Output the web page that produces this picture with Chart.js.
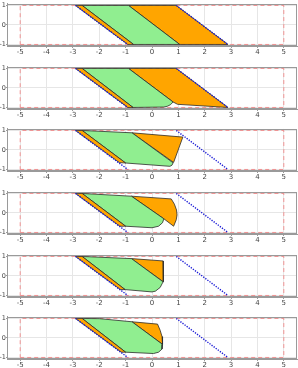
<!DOCTYPE html>
<html>
<head>
<meta charset="utf-8">
<script src="https://cdn.jsdelivr.net/npm/chart.js@4.4.1/dist/chart.umd.min.js"></script>
<style>
  html, body { margin: 0; padding: 0; background: #fff; overflow: hidden; }
  body { width: 298px; height: 368px; position: relative; }
  canvas { position: absolute; left: 0; }
</style>
</head>
<body>
<script>
// axis ticks
const xTicks = [-5, -4, -3, -2, -1, 0, 1, 2, 3, 4, 5]
const yTicks = [-1, 0, 1]

// fixed guides: domain box and the two edges of the starting parallelogram
const domainBox = [[-5, -1], [5, -1], [5, 1], [-5, 1], [-5, -1]]
const leftEdge = [[-2.9, 1], [-0.92, -1]]
const rightEdge = [[0.92, 1], [2.88, -1]]

// snapshot 1
const strip1 = [[-2.9, 1], [-2.65, 1], [-0.7, -1], [-0.92, -1]]
const green1 = [[-2.65, 1], [-0.89, 1], [1.05, -1], [-0.7, -1]]
const orange1 = [[-0.89, 1], [0.92, 1], [2.88, -1], [1.05, -1]]

// snapshot 2
const strip2 = [[-2.9, 1], [-2.65, 1], [-0.72, -1], [-0.92, -1]]
const green2 = [[-2.65, 1], [-0.89, 1], [0.8, -0.72], [0.7, -0.86], [0.58, -0.94], [0.44, -0.98], [-0.72, -1]]
const orange2 = [[-0.89, 1], [0.92, 1], [2.88, -1], [0.97, -0.84], [0.8, -0.72]]

// snapshot 3
const strip3 = [[-2.9, 1], [-2.65, 1], [-1.0, -0.67], [-1.24, -0.65]]
const green3 = [[-2.65, 1], [-0.76, 0.88], [0.8, -0.66], [0.76, -0.78], [0.68, -0.84], [-1.0, -0.67]]
const orange3 = [[-0.76, 0.88], [1.17, 0.66], [0.82, -0.64]]

// snapshot 4
const strip4 = [[-2.9, 1], [-2.65, 1], [-1.0, -0.68], [-1.22, -0.68]]
const green4 = [[-2.65, 1], [-0.78, 0.86], [0.45, -0.3], [0.4, -0.5], [0.25, -0.68], [0.0, -0.76], [-1.0, -0.68]]
const orange4 = [[-0.78, 0.86], [0.73, 0.72], [0.85, 0.45], [0.93, 0.15], [0.95, -0.1], [0.92, -0.35], [0.82, -0.68], [0.45, -0.3]]

// snapshot 5
const strip5 = [[-2.9, 1], [-2.65, 1], [-1.02, -0.7], [-1.2, -0.7]]
const green5 = [[-2.65, 1], [-0.78, 0.89], [0.42, -0.3], [0.31, -0.59], [0.13, -0.78], [0.0, -0.82], [-1.02, -0.7]]
const orange5 = [[-0.78, 0.89], [0.42, 0.77], [0.44, 0.4], [0.43, 0.0], [0.42, -0.3]]

// snapshot 6
const strip6 = [[-2.9, 1], [-2.65, 1], [-1.0, -0.73], [-1.17, -0.73]]
const green6 = [[-2.65, 1], [-2.0, 0.99], [-0.76, 0.83], [0.4, -0.33], [0.38, -0.57], [0.25, -0.73], [0.06, -0.8], [-1.0, -0.73]]
const orange6 = [[-0.76, 0.83], [0.21, 0.71], [0.31, 0.39], [0.38, 0.07], [0.4, -0.33]]

const snapshots = [
  [strip1, green1, orange1],
  [strip2, green2, orange2],
  [strip3, green3, orange3],
  [strip4, green4, orange4],
  [strip5, green5, orange5],
  [strip6, green6, orange6],
]

const ORANGE = '#ffa500'
const GREEN = '#90ee90'
const tickFont = { size: 7, family: 'DejaVu Sans' }

const toPts = (arr) => arr.map(p => ({ x: p[0], y: p[1] }))
const closed = (arr) => toPts(arr.concat([arr[0]]))

const frameBox = {
  id: 'frameBox',
  afterDraw(chart) {
    const a = chart.chartArea
    const ctx = chart.ctx
    ctx.save()
    ctx.strokeStyle = '#9a9a9a'
    ctx.lineWidth = 1
    ctx.strokeRect(Math.round(a.left) + 0.5, Math.round(a.top) + 0.5, Math.round(a.right - a.left) - 1, Math.round(a.bottom - a.top) - 1)
    ctx.restore()
  }
}

function polygon(arr, color, order) {
  return {
    data: closed(arr),
    showLine: true,
    fill: 'shape',
    backgroundColor: color,
    borderColor: '#2b2b2b',
    borderWidth: 0.8,
    pointRadius: 0,
    order: order,
  }
}

function guide(arr, color, dash, width, order) {
  return {
    data: toPts(arr),
    showLine: true,
    fill: false,
    borderColor: color,
    borderDash: dash,
    borderWidth: width,
    pointRadius: 0,
    order: order,
  }
}

snapshots.forEach((shapes, k) => {
  let canvas = document.createElement('canvas')
  canvas.width = 298
  canvas.height = 62
  canvas.style.top = Math.round(k * 62.65) + 'px'
  document.body.appendChild(canvas)

  new Chart(canvas.getContext('2d'), {
    type: 'scatter',
    data: {
      datasets: [
        guide(leftEdge, '#1c1cd6', [1.3, 1.3], 1.4, 0),
        guide(rightEdge, '#1c1cd6', [1.3, 1.3], 1.4, 0),
        polygon(shapes[0], ORANGE, 1),
        polygon(shapes[1], GREEN, 2),
        polygon(shapes[2], ORANGE, 3),
        guide(domainBox, 'rgba(245, 90, 90, 0.6)', [4, 3], 1, 10),
      ]
    },
    options: {
      animation: false,
      responsive: false,
      devicePixelRatio: 1,
      layout: { padding: { top: 1, right: 1, left: 0, bottom: 0 } },
      plugins: { legend: { display: false }, tooltip: { enabled: false } },
      scales: {
        x: {
          type: 'linear',
          min: -5.5,
          max: 5.5,
          afterBuildTicks: (s) => { s.ticks = xTicks.map(v => ({ value: v })) },
          afterFit: (s) => { s.height = 16 },
          ticks: { font: tickFont, color: '#444', padding: 0, maxRotation: 0, autoSkip: false },
          grid: { color: '#e6e6e6', tickLength: 2, tickColor: '#999' },
          border: { color: '#9a9a9a' },
        },
        y: {
          type: 'linear',
          min: -1.08,
          max: 1.08,
          afterBuildTicks: (s) => { s.ticks = yTicks.map(v => ({ value: v })) },
          afterFit: (s) => { s.width = 7 },
          ticks: { font: { size: 6.5, family: 'DejaVu Sans' }, color: '#444', padding: 0 },
          grid: { color: '#e6e6e6', tickLength: 1, tickColor: '#999' },
          border: { color: '#9a9a9a' },
        }
      }
    },
    plugins: [frameBox]
  })
})
</script>
</body>
</html>
